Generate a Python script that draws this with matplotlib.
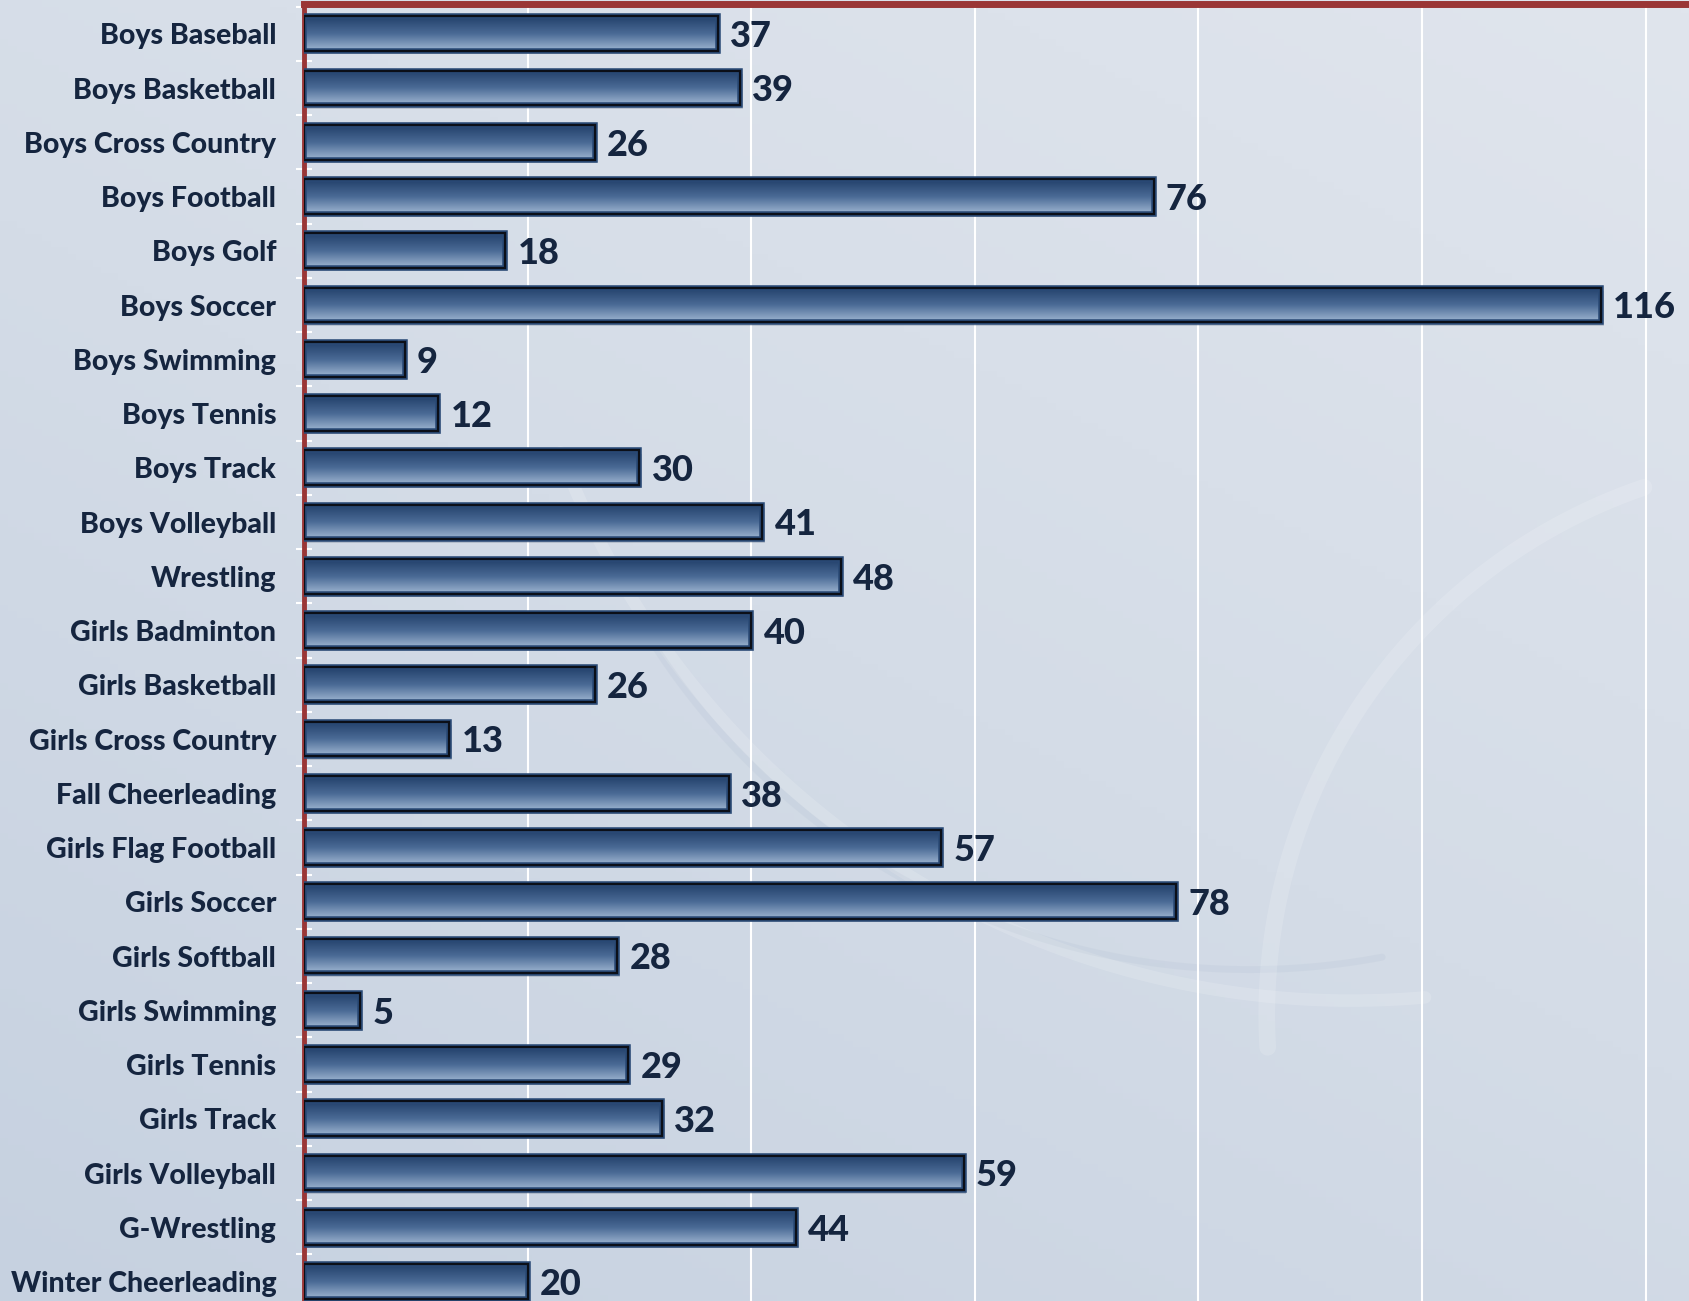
import numpy as np
import matplotlib
matplotlib.use("Agg")
import matplotlib.pyplot as plt
from matplotlib.patches import Rectangle
from matplotlib.colors import LinearSegmentedColormap

categories = ["Boys Baseball", "Boys Basketball", "Boys Cross Country", "Boys Football",
              "Boys Golf", "Boys Soccer", "Boys Swimming", "Boys Tennis", "Boys Track",
              "Boys Volleyball", "Wrestling", "Girls Badminton", "Girls Basketball",
              "Girls Cross Country", "Fall Cheerleading", "Girls Flag Football",
              "Girls Soccer", "Girls Softball", "Girls Swimming", "Girls Tennis",
              "Girls Track", "Girls Volleyball", "G-Wrestling", "Winter Cheerleading"]
values = [37, 39, 26, 76, 18, 116, 9, 12, 30, 41, 48, 40, 26, 13, 38, 57, 78, 28, 5, 29,
          32, 59, 44, 20]
grid_ticks = [20, 40, 60, 80, 100, 120]

W, H = 1689, 1301
fig = plt.figure(figsize=(W / 100, H / 100), dpi=100)

# background gradient
bg = fig.add_axes([0, 0, 1, 1], zorder=0)
bg.set_axis_off()
yy, xx = np.mgrid[0:1:200j, 0:1:200j]
g = 0.6 * yy + 0.4 * xx
bg_cmap = LinearSegmentedColormap.from_list("bg", ["#c6d1e0", "#d4dce7", "#e0e5ed"])
bg.imshow(g, cmap=bg_cmap, extent=[0, 1, 0, 1], origin="lower", aspect="auto")
# faint swirls
t = np.linspace(0, 1, 300)
for (cx, cy, r, a0, a1, lw, col, al) in [
        (0.80, 0.88, 0.50, 3.5, 4.8, 9, "white", 0.15),
        (0.74, 0.80, 0.42, 3.7, 4.9, 5, "#9fb0c6", 0.12),
        (1.08, 0.22, 0.33, 1.9, 3.2, 12, "white", 0.15)]:
    ang = a0 + (a1 - a0) * t
    bg.plot(cx + r * np.cos(ang), cy + r * np.sin(ang) * W / H, color=col, lw=lw,
            alpha=al, solid_capstyle="round")
bg.set_xlim(0, 1)
bg.set_ylim(0, 1)

x0 = 304 / W
ax = fig.add_axes([x0, 0, 1 - x0, 1 - 4 / H], zorder=1)
ax.patch.set_alpha(0)
n = len(categories)
band_px = 54.25
axes_h_px = H - 4
ytop = -0.55
ylim = (ytop + axes_h_px / band_px, ytop)
xlim = (0, (W - 304) / 11.18)

ax.set_xticks(grid_ticks)
ax.xaxis.grid(True, color="white", lw=1.5)
ax.set_axisbelow(True)
ax.tick_params(axis="x", length=0, labelbottom=False)

for s in ["bottom", "right"]:
    ax.spines[s].set_visible(False)
ax.spines["left"].set_color("#9a3636")
ax.spines["left"].set_linewidth(3.5)
ax.spines["top"].set_color("#9a3636")
ax.spines["top"].set_linewidth(5)

fam = ["Lato", "DejaVu Sans"]
ax.set_yticks(np.arange(n))
ax.set_yticklabels(categories, fontsize=20.5, fontweight=900, color="#15253f", family=fam)
ax.tick_params(axis="y", length=0, pad=20)
ax.set_yticks(np.arange(n + 1) - 0.5, minor=True)
ax.tick_params(axis="y", which="minor", direction="inout", length=11, width=1.5,
               color="white")

bar_h = 0.64
grad = np.linspace(0, 1, 100).reshape(-1, 1)
bar_cmap = LinearSegmentedColormap.from_list("bar", ["#22406a", "#4a6a95", "#9fb6d2"])
bars = ax.barh(np.arange(n), values, height=bar_h, color="none", edgecolor="none")
for i, (b, v) in enumerate(zip(bars, values)):
    x, y, w, h = b.get_x(), b.get_y(), b.get_width(), b.get_height()
    ax.add_patch(Rectangle((x + 0.25, y + 0.06), w, h, facecolor="#5a6a80", alpha=0.25,
                           edgecolor="none", zorder=2))
    im = ax.imshow(grad, cmap=bar_cmap, extent=[x, x + w, y + h, y], aspect="auto",
                   zorder=3, interpolation="bilinear")
    im.set_clip_path(b)
    ax.add_patch(Rectangle((x, y), w, h, facecolor="none", edgecolor="#2a4a76", lw=4,
                           zorder=4))
    ax.add_patch(Rectangle((x, y), w, h, facecolor="none", edgecolor="#0b0f18", lw=1.6,
                           zorder=5))
    ax.text(v + 1.1, i + 0.05, str(v), va="center", ha="left", fontsize=26,
            fontweight=900, color="#15253f", family=fam, zorder=6)

ax.set_ylim(*ylim)
ax.set_xlim(*xlim)

fig.savefig("out.png", dpi=100)
